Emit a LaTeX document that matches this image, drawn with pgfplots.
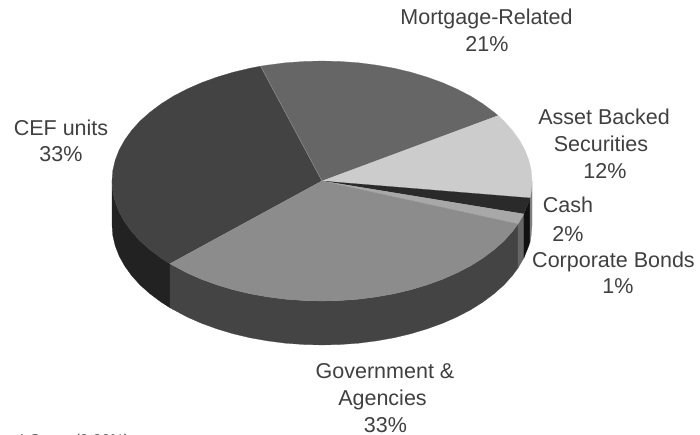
\documentclass[border=0pt]{standalone}
\usepackage{pgfplots}
\pgfplotsset{compat=1.18}
\usepackage{fontspec}
\setmainfont{Liberation Sans}
\definecolor{txt}{HTML}{404040}
\definecolor{cef}{HTML}{434343}
\definecolor{cefs}{HTML}{222222}
\definecolor{mor}{HTML}{666666}
\definecolor{abs}{HTML}{CCCCCC}
\definecolor{abss}{HTML}{808080}
\definecolor{cas}{HTML}{2A2A2A}
\definecolor{cass}{HTML}{111111}
\definecolor{cor}{HTML}{A8A8A8}
\definecolor{cors}{HTML}{666666}
\definecolor{gov}{HTML}{8C8C8C}
\definecolor{govs}{HTML}{444444}
\pgfplotsset{sec/.style={fill=#1,draw=#1,line width=0.2pt}}
\tikzset{lab/.style={font=\fontsize{21.5pt}{26pt}\selectfont,text=txt,anchor=base,inner sep=0pt}}
\begin{document}
\begin{tikzpicture}
\path[use as bounding box,clip] (0,0) rectangle (700pt,435pt);
\fill[white] (0,0) rectangle (700pt,435pt);
\begin{axis}[at={(0,0)},anchor=south west,scale only axis,width=700pt,height=435pt,
 xmin=0,xmax=700,ymin=0,ymax=435,y dir=reverse,hide axis,clip=false]
% side walls: rim, then rim+44 back
\addplot[sec=cefs] coordinates {(112,181)(112.8,191.5)(115.2,201.8)(119.2,212.1)(124.7,222)(131.7,231.7)(140.1,241)(150,249.8)(161.1,258.1)(170,263.8)(170,307.8)(161.1,302.1)(150,293.8)(140.1,285)(131.7,275.7)(124.7,266)(119.2,256.1)(115.2,245.8)(112.8,235.5)(112,225)} -- cycle;
\addplot[sec=govs] coordinates {(170,263.8)(187,272.9)(201.5,279.3)(217,284.9)(233.3,289.8)(250.2,293.8)(267.7,296.9)(285.5,299.2)(303.7,300.5)(322,301)(340.3,300.5)(358.5,299.2)(376.3,296.9)(393.8,293.8)(410.7,289.8)(427,284.9)(442.5,279.3)(457,272.9)(470.5,265.9)(482.9,258.1)(494,249.8)(503.9,241)(512.3,231.7)(518,224)(518,268)(512.3,275.7)(503.9,285)(494,293.8)(482.9,302.1)(470.5,309.9)(457,316.9)(442.5,323.3)(427,328.9)(410.7,333.8)(393.8,337.8)(376.3,340.9)(358.5,343.2)(340.3,344.5)(322,345)(303.7,344.5)(285.5,343.2)(267.7,340.9)(250.2,337.8)(233.3,333.8)(217,328.9)(201.5,323.3)(187,316.9)(170,307.8)} -- cycle;
\addplot[sec=cors] coordinates {(518,224)(523.9,214)(523.9,258)(518,268)} -- cycle;
\addplot[sec=cass] coordinates {(523.9,214)(528.8,201.8)(530,198)(530,242)(528.8,245.8)(523.9,258)} -- cycle;
\addplot[sec=abss] coordinates {(530,198)(531.2,191.5)(532,181)(532,225)(531.2,235.5)(530,242)} -- cycle;
% top faces
\addplot[sec=cef] coordinates {(322,181)(260.6,66.2)(250.2,68.2)(233.3,72.2)(217,77.1)(201.5,82.7)(187,89.1)(173.5,96.1)(161.1,103.9)(150,112.2)(140.1,121)(131.7,130.3)(124.7,140)(119.2,149.9)(115.2,160.2)(112.8,170.5)(112,181)(112.8,191.5)(115.2,201.8)(119.2,212.1)(124.7,222)(131.7,231.7)(140.1,241)(150,249.8)(161.1,258.1)(170,263.8)} -- cycle;
\addplot[sec=mor] coordinates {(322,181)(498.1,115.6)(494,112.2)(482.9,103.9)(470.5,96.1)(457,89.1)(442.5,82.7)(427,77.1)(410.7,72.2)(393.8,68.2)(376.3,65.1)(358.5,62.8)(340.3,61.5)(322,61)(303.7,61.5)(285.5,62.8)(267.7,65.1)(260.6,66.2)} -- cycle;
\addplot[sec=abs] coordinates {(322,181)(530,198)(531.2,191.5)(532,181)(531.2,170.5)(528.8,160.2)(524.8,149.9)(519.3,140)(512.3,130.3)(503.9,121)(498.1,115.6)} -- cycle;
\addplot[sec=cas] coordinates {(322,181)(523.9,214)(528.8,201.8)(530,198)} -- cycle;
\addplot[sec=cor] coordinates {(322,181)(518,224)(523.9,214)} -- cycle;
\addplot[sec=gov] coordinates {(322,181)(170,263.8)(187,272.9)(201.5,279.3)(217,284.9)(233.3,289.8)(250.2,293.8)(267.7,296.9)(285.5,299.2)(303.7,300.5)(322,301)(340.3,300.5)(358.5,299.2)(376.3,296.9)(393.8,293.8)(410.7,289.8)(427,284.9)(442.5,279.3)(457,272.9)(470.5,265.9)(482.9,258.1)(494,249.8)(503.9,241)(512.3,231.7)(518,224)} -- cycle;
% light hairlines along the CEF edges
\addplot[color=gray!85,line width=0.4pt] coordinates {(260.6,66.2)(322,181)(170,263.8)};
\node[lab] at (axis cs:486.5,25) {Mortgage-Related};
\node[lab] at (axis cs:487,52) {21\%};
\node[lab] at (axis cs:604,125) {Asset Backed};
\node[lab] at (axis cs:601,152) {Securities};
\node[lab] at (axis cs:605,179) {12\%};
\node[lab] at (axis cs:568,213) {Cash};
\node[lab] at (axis cs:568,241) {2\%};
\node[lab] at (axis cs:613.5,267) {Corporate Bonds};
\node[lab] at (axis cs:618,293) {1\%};
\node[lab] at (axis cs:385,378) {Government \&};
\node[lab] at (axis cs:382.5,405) {Agencies};
\node[lab] at (axis cs:385.5,432) {33\%};
\node[lab] at (axis cs:61,136) {CEF units};
\node[lab] at (axis cs:61,162) {33\%};
\node[lab,anchor=base west,font=\fontsize{15.5pt}{18pt}\selectfont] at (axis cs:16,445) {4 Gross (0.26\%)};
\end{axis}
\end{tikzpicture}
\end{document}
